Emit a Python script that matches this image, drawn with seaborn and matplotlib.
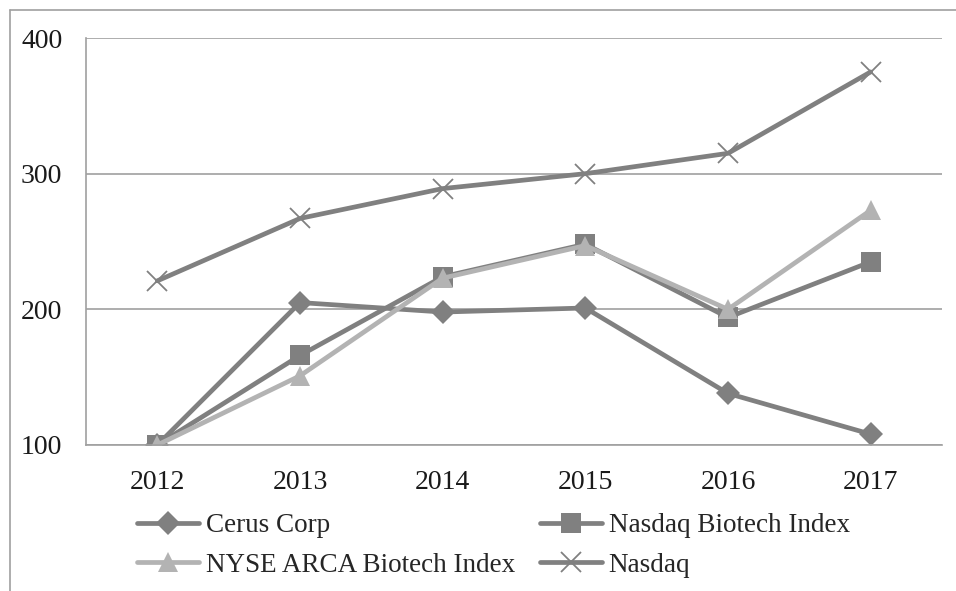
import pandas as pd
import matplotlib.pyplot as plt
import seaborn as sns
from matplotlib.lines import Line2D

years = ['2012', '2013', '2014', '2015', '2016', '2017']
cerus = [100, 205, 198, 201, 138, 108]
nasdaq_biotech = [100, 166, 224, 248, 194, 235]
nyse_arca = [100, 151, 223, 247, 200, 273]
nasdaq = [221, 267, 289, 300, 315, 375]

series = ['Cerus Corp', 'Nasdaq Biotech Index', 'NYSE ARCA Biotech Index', 'Nasdaq']
values = [cerus, nasdaq_biotech, nyse_arca, nasdaq]

rows = []
for name, vals in zip(series, values):
    for yr, v in zip(years, vals):
        rows.append({'Year': yr, 'Value': v, 'Series': name})
df = pd.DataFrame(rows)

sns.set_style('white')
plt.rcParams['font.family'] = ['Liberation Serif', 'DejaVu Serif']

dark = '#808080'
light = '#b3b3b3'
colors = {'Cerus Corp': dark, 'Nasdaq Biotech Index': dark,
          'NYSE ARCA Biotech Index': light, 'Nasdaq': dark}
markers = {'Cerus Corp': 'D', 'Nasdaq Biotech Index': 's',
           'NYSE ARCA Biotech Index': '^', 'Nasdaq': 'x'}
msizes = {'Cerus Corp': 12, 'Nasdaq Biotech Index': 14,
          'NYSE ARCA Biotech Index': 15, 'Nasdaq': 15}
fs = 20
lw = 3.4

fig = plt.figure(figsize=(9.56, 5.91), dpi=100)
ax = fig.add_axes([86 / 956, 1 - 445 / 591, (942 - 86) / 956, (445 - 38) / 591])

for name in series:
    sub = df[df['Series'] == name]
    sns.lineplot(data=sub, x='Year', y='Value', ax=ax, color=colors[name],
                 linewidth=lw, marker=markers[name], markersize=msizes[name],
                 markeredgewidth=1.3 if name == 'Nasdaq' else 0,
                 markeredgecolor=colors[name], sort=False, label=name, legend=False)

ax.set_xlim(-0.5, 5.5)
ax.set_ylim(100, 400)
ax.set_yticks([100, 200, 300, 400])
ax.set_xlabel('')
ax.set_ylabel('')
ax.grid(axis='y', color='#a0a0a0', linewidth=1.2)
ax.set_axisbelow(True)
for side in ['top', 'right']:
    ax.spines[side].set_visible(False)
ax.spines['left'].set_color('#a0a0a0')
ax.spines['bottom'].set_color('#a0a0a0')
ax.spines['left'].set_linewidth(1.2)
ax.spines['bottom'].set_linewidth(1.2)

# tick marks between categories
ax.set_xticks(range(6))
ax.set_xticklabels(years)
ax.set_xticks([i - 0.5 for i in range(7)], minor=True)
ax.tick_params(axis='x', which='major', length=0, pad=18, labelsize=fs, colors='#1a1a1a')
ax.tick_params(axis='x', which='minor', length=6, width=1.2, color='#a0a0a0', direction='out')
ax.tick_params(axis='y', length=0, pad=17, labelsize=fs, colors='#1a1a1a')

order = ['Cerus Corp', 'NYSE ARCA Biotech Index', 'Nasdaq Biotech Index', 'Nasdaq']
handles = [Line2D([], [], color=colors[n], linewidth=lw, marker=markers[n],
                  markersize=msizes[n], markeredgewidth=1.3 if n == 'Nasdaq' else 0,
                  markeredgecolor=colors[n]) for n in order]
fig.legend(handles, order, loc='upper left', bbox_to_anchor=(137 / 956, 1 - 513 / 591),
           ncol=2, frameon=False, fontsize=19.5, handlelength=2.3, handletextpad=0.25,
           columnspacing=0.9, labelspacing=0.55, borderaxespad=0, borderpad=0)

# outer chart frame
fig.add_artist(Line2D([10 / 956, 10 / 956], [0, 1 - 10 / 591], color='#a0a0a0', linewidth=1.2))
fig.add_artist(Line2D([10 / 956, 1], [1 - 10 / 591, 1 - 10 / 591], color='#a0a0a0', linewidth=1.2))

fig.savefig('out.png', dpi=100)
